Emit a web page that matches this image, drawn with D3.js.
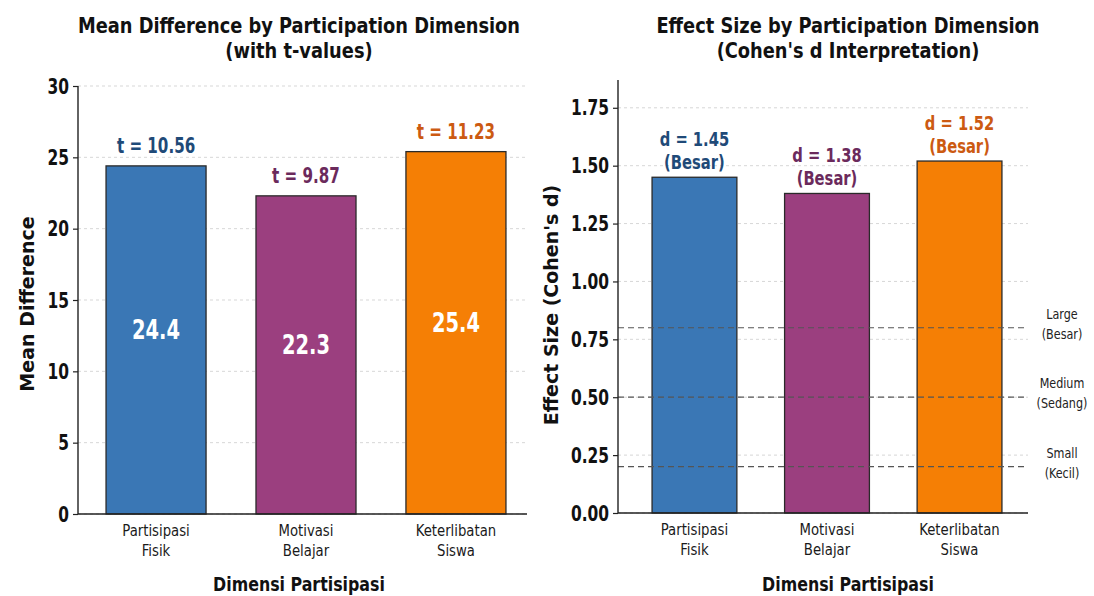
<!DOCTYPE html>
<html>
<head>
<meta charset="utf-8">
<script src="https://cdn.jsdelivr.net/npm/d3@7"></script>
<style>
  html, body { margin: 0; padding: 0; background: #ffffff; }
  svg { display: block; }
</style>
</head>
<body>
<svg id="chart" width="1094" height="596"></svg>
<script>
// Dimensions of participation
const categories = [["Partisipasi", "Fisik"], ["Motivasi", "Belajar"], ["Keterlibatan", "Siswa"]];
const meanDiff = [24.4, 22.3, 25.4];
const tValues = [10.56, 9.87, 11.23];
const cohenD = [1.45, 1.38, 1.52];
const interp = ["Besar", "Besar", "Besar"];
const meanTicks = [0, 5, 10, 15, 20, 25, 30];
const dTicks = [0, 0.25, 0.5, 0.75, 1.0, 1.25, 1.5, 1.75];
const thresholds = [0.8, 0.5, 0.2];
const thresholdLabels = [["Large", "(Besar)"], ["Medium", "(Sedang)"], ["Small", "(Kecil)"]];

const barColors = ["#3a77b5", "#9b3f7f", "#f57f05"];
const labelColors = ["#1f4a78", "#6b2a5c", "#cc5a12"];
const NARROW = "'DejaVu Sans Condensed', 'DejaVu Sans', sans-serif";
const WIDE = "'DejaVu Sans', sans-serif";

const svg = d3.select("#chart");
const keys = categories.map((c, i) => i);

// narrow a text element horizontally to a fraction of its natural width
function condense(sel, f) {
  sel.each(function () {
    const w = this.getComputedTextLength();
    this.setAttribute("textLength", (w * f).toFixed(1));
    this.setAttribute("lengthAdjust", "spacingAndGlyphs");
  });
  return sel;
}

function label(parent, x, y, txt, size, weight, fill, f) {
  const t = parent.append("text").attr("x", x).attr("y", y)
    .attr("text-anchor", "middle").attr("fill", fill)
    .style("font-family", NARROW).style("font-size", size + "px")
    .style("font-weight", weight).text(txt);
  condense(t, f);
  return t;
}

function panel(opts) {
  const g = svg.append("g");
  const x = d3.scaleBand().domain(keys).range([opts.x0, opts.bandEnd])
    .paddingInner(opts.pin).paddingOuter(opts.pout);
  const y = d3.scaleLinear().domain(opts.domain).range([opts.yb, opts.yt]);

  // grid
  g.append("g").selectAll("line").data(opts.ticks).join("line")
    .attr("x1", opts.x0).attr("x2", opts.x1)
    .attr("y1", d => y(d)).attr("y2", d => y(d))
    .attr("stroke", "#d2d2d2").attr("stroke-width", 0.9)
    .attr("stroke-dasharray", "3,3");

  // bars
  g.append("g").selectAll("rect").data(opts.values).join("rect")
    .attr("x", (d, i) => x(i)).attr("width", x.bandwidth())
    .attr("y", d => y(d)).attr("height", d => y(0) - y(d))
    .attr("fill", (d, i) => barColors[i])
    .attr("stroke", "#2a2a2a").attr("stroke-width", 1.3);

  const over = g.append("g");

  // y axis
  const ya = g.append("g").attr("transform", `translate(${opts.x0},0)`)
    .call(d3.axisLeft(y).tickValues(opts.ticks).tickFormat(opts.fmt).tickSize(5).tickPadding(4));
  ya.select(".domain").attr("stroke", "#222").attr("stroke-width", 1.4)
    .attr("d", `M-0,${opts.yb}V${opts.yt}`);
  ya.selectAll(".tick line").attr("stroke", "#222").attr("stroke-width", 1.2);
  condense(ya.selectAll(".tick text").attr("fill", "#111").style("font-family", NARROW)
    .style("font-size", "22px").style("font-weight", "bold"), 0.78);

  // x axis
  const xa = g.append("g").attr("transform", `translate(0,${opts.yb})`)
    .call(d3.axisBottom(x).tickSize(0).tickFormat(""));
  xa.select(".domain").attr("stroke", "#222").attr("stroke-width", 1.4)
    .attr("d", `M${opts.x0},0H${opts.x1}`);
  keys.forEach(i => {
    categories[i].forEach((line, k) =>
      label(g, x(i) + x.bandwidth() / 2, opts.yb + 22 + k * 20, line, 16, "normal", "#1a1a1a", 0.92));
  });

  // titles
  opts.title.forEach((line, k) => label(g, opts.titleX, 33 + k * 25, line, 22, "bold", "#111", 0.9));
  label(g, opts.titleX, 591, "Dimensi Partisipasi", 20, "bold", "#111", 0.88);

  g.append("text").attr("text-anchor", "middle")
    .attr("transform", `translate(${opts.ylabX},${opts.ylabY}) rotate(-90)`)
    .attr("fill", "#111").style("font-family", WIDE).style("font-size", "19px")
    .style("font-weight", "bold").text(opts.ylabel);

  return { g, x, y, over };
}

// Left panel: mean differences with t-values
const L = panel({
  x0: 78, x1: 527, bandEnd: 534, pin: 0.333, pout: 0.187, yb: 514, yt: 86, domain: [0, 30],
  ticks: meanTicks, fmt: d3.format("d"), values: meanDiff,
  title: ["Mean Difference by Participation Dimension", "(with t-values)"], titleX: 299,
  ylabel: "Mean Difference", ylabX: 34, ylabY: 304
});
meanDiff.forEach((v, i) => {
  const cx = L.x(i) + L.x.bandwidth() / 2;
  label(L.over, cx, L.y(v / 2) - 1, v.toFixed(1), 27, "bold", "#ffffff", 0.8);
  label(L.over, cx, L.y(v) - 13, `t = ${tValues[i].toFixed(2)}`, 20.5, "bold", labelColors[i], 0.82);
});

// Right panel: Cohen's d with interpretation thresholds
const R = panel({
  x0: 618, x1: 1028, bandEnd: 1036, pin: 0.36, pout: 0.257, yb: 513, yt: 80, domain: [0, 1.87],
  ticks: dTicks, fmt: d3.format(".2f"), values: cohenD,
  title: ["Effect Size by Participation Dimension", "(Cohen's d Interpretation)"], titleX: 848,
  ylabel: "Effect Size (Cohen's d)", ylabX: 558, ylabY: 305
});
R.over.selectAll("line").data(thresholds).join("line")
  .attr("x1", 618).attr("x2", 1028)
  .attr("y1", d => R.y(d)).attr("y2", d => R.y(d))
  .attr("stroke", "#555").attr("stroke-width", 1.2).attr("stroke-dasharray", "6,4");
thresholds.forEach((d, i) => {
  thresholdLabels[i].forEach((line, k) =>
    label(R.g, 1062, R.y(d) - 9 + k * 20, line, 13.5, "normal", "#222", 0.92));
});
cohenD.forEach((d, i) => {
  const cx = R.x(i) + R.x.bandwidth() / 2;
  label(R.over, cx, R.y(d) - 31, `d = ${d.toFixed(2)}`, 19.5, "bold", labelColors[i], 0.84);
  label(R.over, cx, R.y(d) - 8, `(${interp[i]})`, 19.5, "bold", labelColors[i], 0.84);
});
</script>
</body>
</html>
